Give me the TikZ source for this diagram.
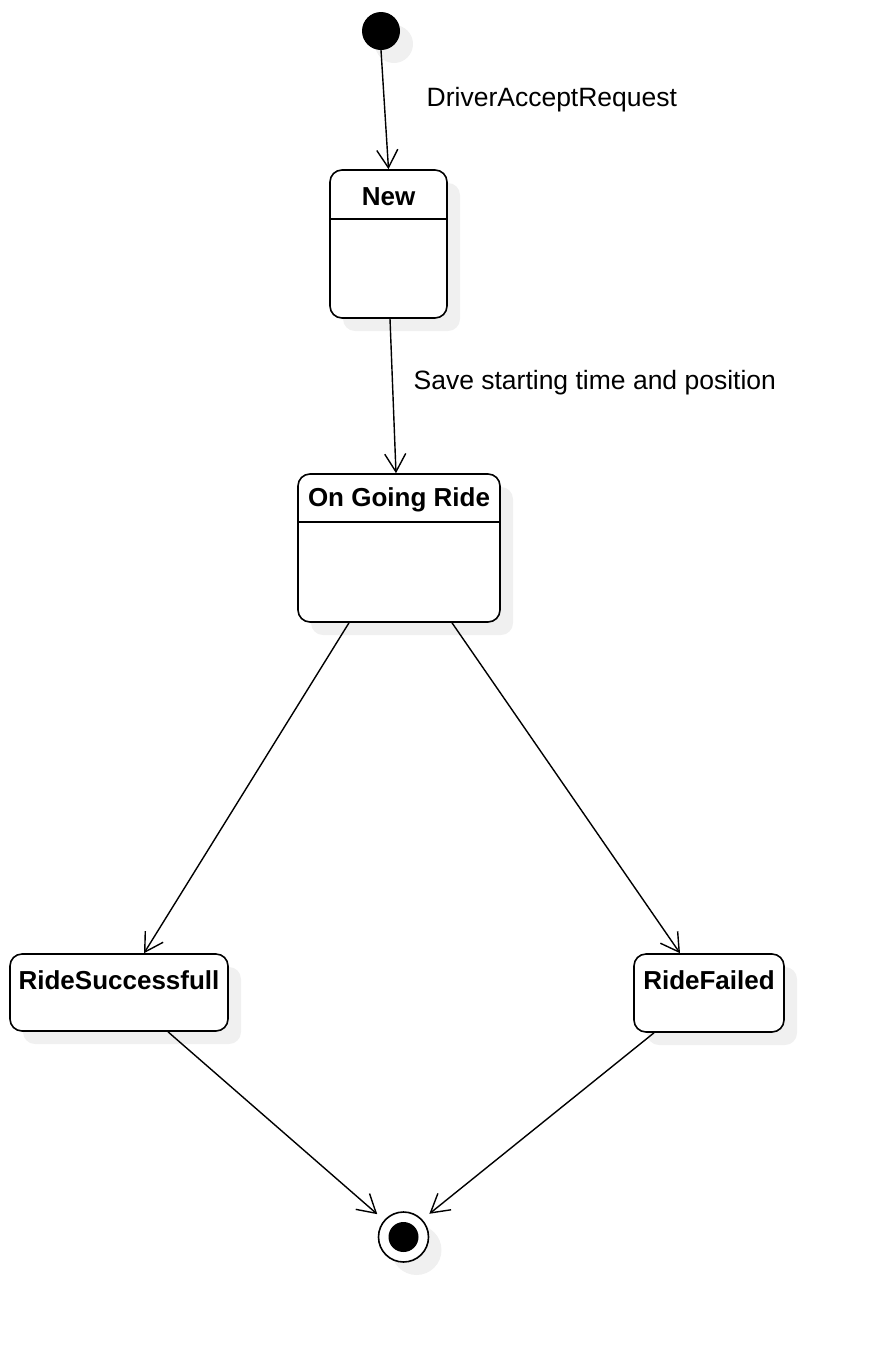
\documentclass[tikz,border=0pt]{standalone}
\usepackage{fontspec}
\setmainfont{Liberation Sans}
\usetikzlibrary{arrows.meta,calc,shadows}
\definecolor{shadowgray}{HTML}{F0F0F0}

\begin{document}
\begin{tikzpicture}[x=1pt,y=-1pt,
castshadow/.style={drop shadow={shadow xshift=13pt,shadow yshift=-13pt,
fill=shadowgray,opacity=1}},
statebox/.style={draw,rounded corners=12pt,line width=1.6pt,fill=white,
castshadow,inner sep=0pt},
title/.style={font=\fontsize{26}{31}\selectfont\bfseries,inner sep=0pt},
lbl/.style={font=\fontsize{26.5}{31}\selectfont,anchor=west,inner sep=0pt},
arr/.style={-{Straight Barb[length=18pt,width=21pt]},line width=1.4pt}
]
\useasboundingbox (0,0) rectangle (874,1350);
% states
\node[circle,fill=black,minimum size=38pt,inner sep=0pt,castshadow] (init) at (381,31) {};
\node[statebox,minimum width=117pt,minimum height=148pt] (new) at (388.5,244) {};
\node[title] (newt) at ($(new.north)+(0,27)$) {New};
\draw[line width=1.6pt] ($(new.north west)+(0,50)$) -- ($(new.north east)+(0,50)$);
\node[statebox,minimum width=202pt,minimum height=148pt] (ride) at (399,548) {};
\node[title] (ridet) at ($(ride.north)+(0,27)$) {On Going Ride};
\draw[line width=1.6pt] ($(ride.north west)+(0,49)$) -- ($(ride.north east)+(0,49)$);
\node[statebox,minimum width=218pt,minimum height=77pt] (succ) at (119,992.5) {};
\node[title] (succt) at ($(succ.north)+(0,27)$) {RideSuccessfull};
\node[statebox,minimum width=150pt,minimum height=78pt] (fail) at (709,993) {};
\node[title] (failt) at ($(fail.north)+(0,27)$) {RideFailed};
\node[circle,draw,line width=1.6pt,fill=white,minimum size=50pt,inner sep=0pt,
castshadow] (final) at (403.5,1237) {};
\node[circle,fill=black,minimum size=30pt,inner sep=0pt] (finaldot) at (final) {};
% transitions
\draw[arr] (init.south) -- (new.north)
node[lbl,pos=.4,xshift=42pt,yshift=-1.5pt] (lblaccept) {DriverAcceptRequest};
\draw[arr] ([xshift=1.5pt]new.south) -- ([xshift=-3pt]ride.north)
node[lbl,pos=.4,xshift=20.5pt,yshift=-2pt] (lblsave) {Save starting time and position};
\draw[arr] ([xshift=-50pt]ride.south) -- ([xshift=25pt]succ.north);
\draw[arr] ([xshift=53pt]ride.south) -- ([xshift=-29pt]fail.north);
\draw[arr,shorten >=9pt] ([xshift=49pt]succ.south) -- (final.139);
\draw[arr,shorten >=9pt] ([xshift=-55pt]fail.south) -- (final.43);
\end{tikzpicture}
\end{document}
